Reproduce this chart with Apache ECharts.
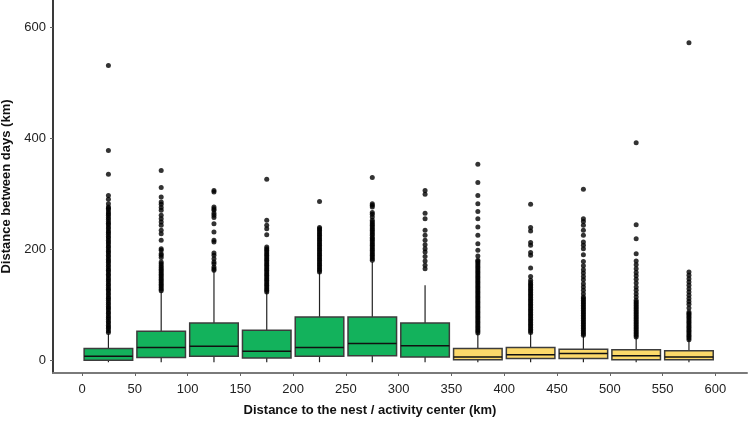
<!DOCTYPE html>
<html>
<head>
<meta charset="utf-8">
<script src="https://cdn.jsdelivr.net/npm/echarts@6/dist/echarts.min.js"></script>
<style>html,body{margin:0;padding:0;background:#fff}#c{width:749px;height:428px}</style>
</head>
<body>
<div id="c"></div>
<script>
// ---- data ----
const binCenters = [25, 75, 125, 175, 225, 275, 325, 375, 425, 475, 525, 575];
const binGroup   = ['near','near','near','near','near','near','near','far','far','far','far','far'];
const whiskerLow  = [0, 0, 0, 0, 0, 0, 0, 0, 0, 0, 0, 0];
const q1          = [0, 5, 7, 4, 7, 8, 6, 1, 3, 3, 1, 1];
const medians     = [7, 23, 25, 16, 23, 30, 26, 6, 10, 12, 8, 6];
const q3          = [21, 52, 67, 54, 78, 78, 67, 21, 23, 20, 19, 17];
const whiskerHigh = [48, 123, 161, 123, 159, 177, 135, 49, 50, 45, 42, 37];
const outliersByBin = [
  [50,53,57,60,63,67,70,74,77,80,84,87,91,94,97,101,104,108,111,114,118,121,125,128,131,135,138,142,145,148,152,155,159,162,165,169,172,176,179,182,186,189,193,196,199,203,206,210,213,216,220,223,227,230,233,237,240,244,247,250,254,257,261,264,267,271,274,276,282,290,297,335,378,531],
  [125,128,131,134,137,140,143,146,149,152,155,158,161,164,167,170,174,177,185,189,192,198,201,216,228,234,243,249,255,261,270,275,281,285,294,311,342],
  [162,165,168,174,177,183,189,193,213,216,231,246,257,261,265,270,273,276,303,306],
  [123,126,129,132,135,138,141,144,147,150,153,156,159,162,165,168,171,174,177,180,183,186,189,192,195,198,201,204,226,237,243,252,326],
  [159,162,165,168,171,174,177,180,183,186,189,192,195,198,201,204,207,210,213,216,219,222,225,228,231,234,237,239,286],
  [180,183,186,189,192,195,198,201,204,207,210,213,216,219,221,225,228,231,234,237,240,243,246,249,252,258,263,266,276,279,282,329],
  [165,171,179,187,195,201,208,216,225,234,255,265,299,306],
  [49,52,55,58,61,64,67,70,73,76,79,82,85,88,91,94,97,100,103,106,109,112,115,118,121,124,127,130,133,136,139,142,145,148,151,154,157,160,163,166,169,172,175,178,180,188,198,210,225,240,255,268,282,297,320,353],
  [50,53,56,59,62,65,68,71,74,77,80,83,86,89,92,95,98,101,104,107,110,113,116,119,122,125,128,131,134,137,140,144,151,166,189,194,207,212,233,239,281],
  [45,48,51,54,57,60,63,66,69,72,75,78,81,84,87,90,93,96,99,102,105,108,111,114,120,126,132,138,145,151,157,163,170,178,190,201,207,213,225,234,243,250,255,308],
  [42,45,48,51,54,57,60,63,66,69,72,75,78,81,84,87,90,93,96,99,102,105,108,114,120,126,132,139,146,152,158,165,172,179,192,219,244,392],
  [37,40,43,46,49,52,55,58,61,64,67,70,73,76,79,82,84,87,94,101,106,111,117,123,129,135,141,147,153,159,572]
];
const xTickValues = [0, 50, 100, 150, 200, 250, 300, 350, 400, 450, 500, 550, 600];
const yTickValues = [0, 200, 400, 600];
const xTitle = 'Distance to the nest / activity center (km)';
const yTitle = 'Distance between days (km)';

// ---- styles ----
const groupColors = { near: '#13B25C', far: '#FCD96A' };
const BOX_HALF = 23;

const boxData = binCenters.map((c, i) => [c, whiskerLow[i], q1[i], medians[i], q3[i], whiskerHigh[i], i]);
const outlierData = [];
outliersByBin.forEach((arr, i) => arr.forEach(v => outlierData.push([binCenters[i], v])));

const chart = echarts.init(document.getElementById('c'), null, { renderer: 'canvas' });
const font = '"Liberation Sans", Arial, sans-serif';
chart.setOption({
  animation: false,
  backgroundColor: '#ffffff',
  grid: { left: 53, right: 2, top: 0, bottom: 55, containLabel: false, outerBoundsMode: 'none' },
  xAxis: {
    type: 'value', min: -27.5, max: 630,
    name: xTitle, nameLocation: 'middle', nameGap: 31,
    nameTextStyle: { fontFamily: font, fontWeight: 'bold', fontSize: 13, color: '#111', padding: [0, 60, 0, 0] },
    axisLine: { show: true, onZero: false, lineStyle: { color: '#7a7a7a', width: 2 } },
    axisTick: { show: true, customValues: xTickValues, length: 3, lineStyle: { color: '#666', width: 1 } },
    axisLabel: { customValues: xTickValues, margin: 10, fontFamily: font, fontSize: 13, color: '#222' },
    splitLine: { show: false }
  },
  yAxis: {
    type: 'value', min: -23, max: 649,
    name: yTitle, nameLocation: 'middle', nameGap: 33,
    nameTextStyle: { fontFamily: font, fontWeight: 'bold', fontSize: 13, color: '#111' },
    axisLine: { show: true, onZero: false, lineStyle: { color: '#3a3a3a', width: 2 } },
    axisTick: { show: true, customValues: yTickValues, length: 3, lineStyle: { color: '#666', width: 1 } },
    axisLabel: { customValues: yTickValues, margin: 7, fontFamily: font, fontSize: 13, color: '#222' },
    splitLine: { show: false }
  },
  series: [
    {
      type: 'custom',
      data: boxData,
      encode: { x: 0, y: [1, 2, 3, 4, 5] },
      z: 3,
      renderItem: function (params, api) {
        const c = api.value(0), lo = api.value(1), a = api.value(2), m = api.value(3), b = api.value(4), hi = api.value(5);
        const idx = api.value(6);
        const color = groupColors[binGroup[idx]];
        const tl = api.coord([c - BOX_HALF, b]);
        const br = api.coord([c + BOX_HALF, a]);
        const mL = api.coord([c - BOX_HALF, m]);
        const mR = api.coord([c + BOX_HALF, m]);
        const wTop = api.coord([c, hi]);
        const wQ3 = api.coord([c, b]);
        const wQ1 = api.coord([c, a]);
        const wLo = api.coord([c, lo]);
        return {
          type: 'group',
          children: [
            { type: 'line', shape: { x1: wTop[0], y1: wTop[1], x2: wQ3[0], y2: wQ3[1] }, style: { stroke: '#222', lineWidth: 1.2 } },
            { type: 'line', shape: { x1: wQ1[0], y1: wQ1[1], x2: wLo[0], y2: wLo[1] + 2 }, style: { stroke: '#222', lineWidth: 1.2 } },
            { type: 'rect', shape: { x: tl[0], y: tl[1], width: br[0] - tl[0], height: br[1] - tl[1] }, style: { fill: color, stroke: '#3c3c3c', lineWidth: 1.5 } },
            { type: 'line', shape: { x1: mL[0], y1: mL[1], x2: mR[0], y2: mR[1] }, style: { stroke: '#111', lineWidth: 1.5 } }
          ]
        };
      }
    },
    {
      type: 'scatter',
      data: outlierData,
      symbol: 'circle',
      symbolSize: 5,
      itemStyle: { color: '#000' },
      z: 4
    }
  ]
});
</script>
</body>
</html>
